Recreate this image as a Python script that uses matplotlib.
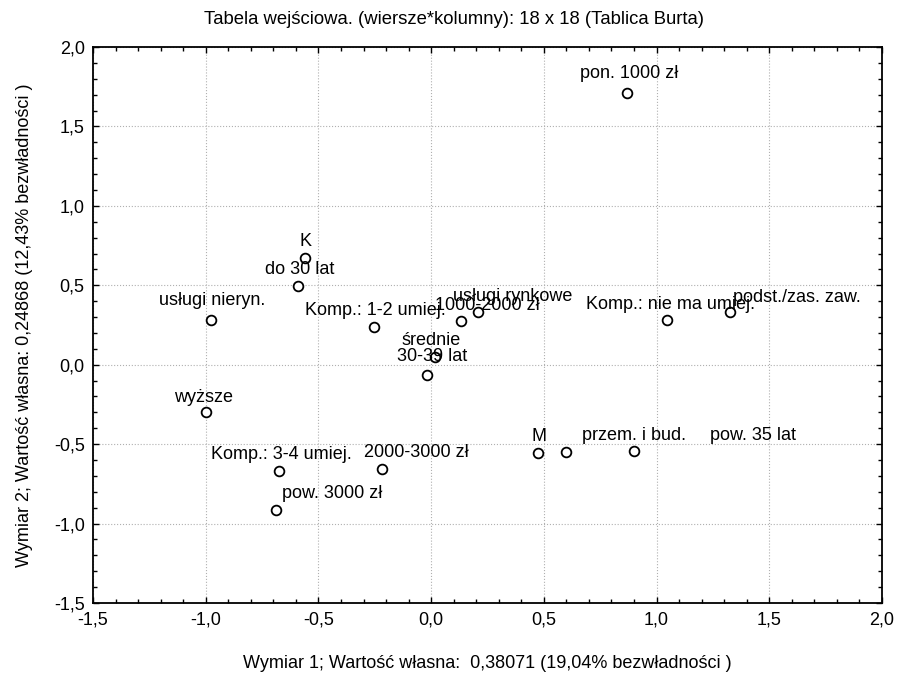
import numpy as np
import matplotlib.pyplot as plt
from matplotlib.ticker import MultipleLocator, FuncFormatter

plt.rcParams['font.family'] = ['Liberation Sans', 'DejaVu Sans']

# punkty (kategorie) i wspolrzedne
Labels = ['K', 'M', 'do 30 lat', '30-39 lat', 'pow. 35 lat', 'wyższe', 'średnie',
          'podst./zas. zaw.', 'usługi rynkowe', 'usługi nieryn.', 'przem. i bud.',
          'pon. 1000 zł', '1000-2000 zł', '2000-3000 zł', 'pow. 3000 zł',
          'Komp.: nie ma umiej.', 'Komp.: 1-2 umiej.', 'Komp.: 3-4 umiej.']
Dim1 = [-0.558, 0.474, -0.589, -0.018, 0.598, -1.000, 0.018,
        1.325, 0.208, -0.975, 0.899,
        0.868, 0.133, -0.217, -0.687,
        1.046, -0.253, -0.673]
Dim2 = [0.673, -0.554, 0.497, -0.063, -0.547, -0.296, 0.050,
        0.334, 0.334, 0.283, -0.541,
        1.712, 0.277, -0.654, -0.912,
        0.283, 0.239, -0.667]

# przesuniecia etykiet w pikselach (dx, dy w gore)
LabOff = [(0, 16), (1, 16), (1, 16), (5, 18), (187, 16), (-2, 14), (-4, 16),
          (67, 14), (35, 15), (1, 19), (0, 15),
          (2, 19), (26, 15), (34, 16), (56, 16),
          (4, 15), (1, 16), (2, 16)]

Fig = plt.figure(figsize=(9.07, 6.85), dpi=100)
ax = Fig.add_axes([93/907, 1-603/685, (882-93)/907, (603-47)/685])

ax.plot(Dim1, Dim2, 'o', markersize=7, markerfacecolor='white',
        markeredgecolor='black', markeredgewidth=1.3, zorder=3)
for ii in range(len(Labels)):
    dx, dy = LabOff[ii]
    ax.annotate(Labels[ii], (Dim1[ii], Dim2[ii]), xytext=(dx*0.72, dy*0.72),
                textcoords='offset points', ha='center', va='center',
                fontsize=13, zorder=4)

ax.set_xlim(-1.5, 2.0)
ax.set_ylim(-1.5, 2.0)
ax.xaxis.set_major_locator(MultipleLocator(0.5))
ax.yaxis.set_major_locator(MultipleLocator(0.5))
ax.xaxis.set_minor_locator(MultipleLocator(0.1))
ax.yaxis.set_minor_locator(MultipleLocator(0.1))
fmt = FuncFormatter(lambda v, p: ('%.1f' % v).replace('.', ','))
ax.xaxis.set_major_formatter(fmt)
ax.yaxis.set_major_formatter(fmt)
ax.tick_params(which='both', direction='in', top=True, right=True, width=1, labelsize=13)
ax.tick_params(which='major', length=4, pad=6)
ax.tick_params(which='minor', length=3)
ax.grid(which='major', linestyle=':', color='#b0b0b0', linewidth=0.8)
for s in ax.spines.values():
    s.set_linewidth(1.3)

Fig.text(0.5, 1-20/685, 'Tabela wejściowa. (wiersze*kolumny): 18 x 18 (Tablica Burta)',
         fontsize=13.3, ha='center', va='center')
ax.set_xlabel('Wymiar 1; Wartość własna:  0,38071 (19,04% bezwładności )', fontsize=13, labelpad=19)
ax.set_ylabel('Wymiar 2; Wartość własna: 0,24868 (12,43% bezwładności )', fontsize=13, labelpad=15)

plt.savefig('out.png', dpi=100)
